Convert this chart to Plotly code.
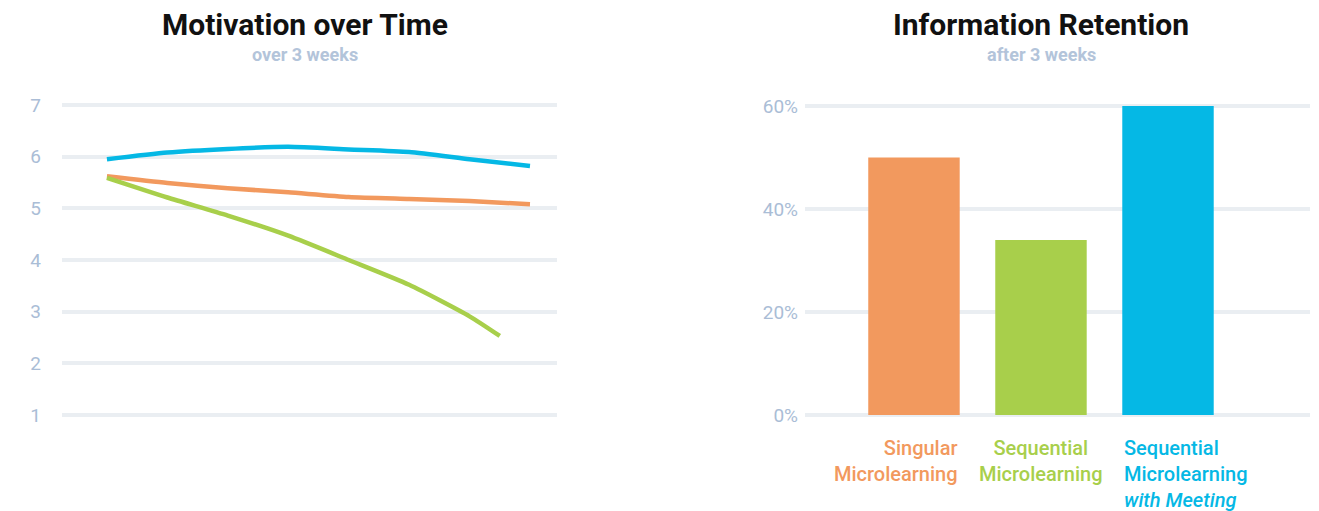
import plotly.graph_objects as go

# Motivation scores over three weeks (day index -> score)
days = [0, 3, 6, 9, 12, 15, 18, 21]
days_green = [0, 3, 6, 9, 12, 15, 18, 19.5]
motivation_meeting = [5.95, 6.08, 6.15, 6.19, 6.14, 6.09, 5.95, 5.82]
motivation_singular = [5.62, 5.49, 5.39, 5.31, 5.22, 5.18, 5.14, 5.08]
motivation_sequential = [5.59, 5.21, 4.86, 4.47, 4.00, 3.52, 2.91, 2.53]
motivation_ticks = [1, 2, 3, 4, 5, 6, 7]

# Information retention after three weeks
categories = ["Singular", "Sequential", "Meeting"]
retention = [50, 34, 60]
retention_ticks = [0, 20, 40, 60]
retention_tick_text = ["0%", "20%", "40%", "60%"]
cat_labels = [
    "Singular<br>Microlearning",
    "Sequential<br>Microlearning",
    "Sequential<br>Microlearning<br><i>with Meeting</i>",
]
cat_anchor = ["right", "center", "left"]
cat_offset = [0.36, 0.0, -0.36]

ORANGE = "#F2995E"
GREEN = "#A8CF4B"
BLUE = "#05B8E5"
colors = [ORANGE, GREEN, BLUE]
GRID = "#EAEEF2"
TICK = "#AABDD6"
FONT = "Roboto"

fig = go.Figure()

for x, y, c in [
    (days, motivation_meeting, BLUE),
    (days, motivation_singular, ORANGE),
    (days_green, motivation_sequential, GREEN),
]:
    fig.add_trace(go.Scatter(
        x=x, y=y, mode="lines",
        line=dict(color=c, width=4.5, shape="spline", smoothing=0.6),
        xaxis="x", yaxis="y", showlegend=False, hoverinfo="skip",
    ))

fig.add_trace(go.Bar(
    x=categories, y=retention, width=0.72,
    marker=dict(color=colors, line=dict(width=0)),
    xaxis="x2", yaxis="y2", showlegend=False, hoverinfo="skip",
))

axis_common = dict(zeroline=False, showline=False, automargin=False)

fig.update_layout(
    width=1319, height=511,
    margin=dict(l=0, r=0, t=0, b=0, autoexpand=False),
    paper_bgcolor="white", plot_bgcolor="white",
    font=dict(family=FONT, color=TICK),
    xaxis=dict(domain=[62 / 1319, 557 / 1319], range=[-2.23, 22.34], anchor="y",
               showgrid=False, showticklabels=False, **axis_common),
    yaxis=dict(domain=[1 - 417.6 / 511, 1 - 102.4 / 511], range=[0.95, 7.05], anchor="x",
               tickvals=motivation_ticks, showgrid=True, gridcolor=GRID, gridwidth=3.5,
               ticklabelstandoff=20, tickfont=dict(size=19, color=TICK, family=FONT),
               **axis_common),
    xaxis2=dict(domain=[805 / 1319, 1310 / 1319], range=[-0.858, 3.118], anchor="y2",
                showgrid=False, showticklabels=False, **axis_common),
    yaxis2=dict(domain=[1 - 420.15 / 511, 1 - 100.85 / 511], range=[-1, 61], anchor="x2",
                tickvals=retention_ticks, ticktext=retention_tick_text, showgrid=True,
                gridcolor=GRID, gridwidth=3.5, ticklabelstandoff=6,
                tickfont=dict(size=19, color=TICK, family=FONT), **axis_common),
)

# Titles and subtitles
titles = [
    (305 / 1319, "Motivation over Time", "over 3 weeks"),
    (1041 / 1319, "Information Retention", "after 3 weeks"),
]
for xc, title, sub in titles:
    fig.add_annotation(x=xc, y=1 - 25 / 511, xref="paper", yref="paper",
                       xanchor="center", yanchor="middle",
                       text=f"<b>{title}</b>", showarrow=False,
                       font=dict(size=30, color="#111111", family=FONT))
    fig.add_annotation(x=xc, y=1 - 54 / 511, xref="paper", yref="paper",
                       xanchor="center", yanchor="middle",
                       text=f"<b>{sub}</b>", showarrow=False,
                       font=dict(size=18, color="#B3C4DA", family=FONT))

# Category labels under the bars
for i, (lab, anc, off, c) in enumerate(zip(cat_labels, cat_anchor, cat_offset, colors)):
    fig.add_annotation(x=i + off, y=1 - 434 / 511, xref="x2", yref="paper",
                       text=lab, showarrow=False, xanchor=anc, yanchor="top",
                       align=anc, font=dict(size=20, color=c, family=FONT, weight=500))

fig.write_html("out.html")
